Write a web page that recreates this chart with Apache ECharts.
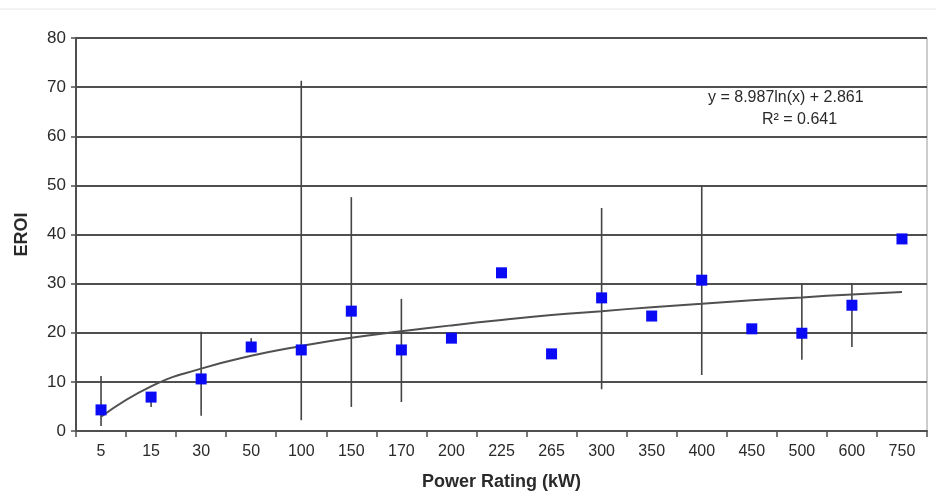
<!DOCTYPE html>
<html>
<head>
<meta charset="utf-8">
<script src="https://cdn.jsdelivr.net/npm/echarts@6/dist/echarts.min.js"></script>
<style>
  html, body { margin: 0; padding: 0; background: #fff; }
  #chart { width: 936px; height: 496px; }
</style>
</head>
<body>
<div id="chart"></div>
<script>
var categories = ['5', '15', '30', '50', '100', '150', '170', '200', '225', '265', '300', '350', '400', '450', '500', '600', '750'];
var eroi = [4.3, 6.9, 10.6, 17.1, 16.5, 24.4, 16.5, 18.9, 32.2, 15.7, 27.1, 23.4, 30.7, 20.8, 19.9, 25.6, 39.1];
// error bar range per category (null = no bar)
var errLow = [1.0, 4.9, 3.1, 16.5, 2.2, 4.9, 5.9, null, null, null, 8.5, null, 11.4, null, 14.5, 17.1, null];
var errHigh = [11.2, 7.5, 20.2, 18.9, 71.3, 47.6, 26.9, null, null, null, 45.4, null, 49.9, null, 30.1, 30.1, null];
// logarithmic trend line
var trend = [2.9, 9.1, 12.7, 15.3, 17.3, 19.0, 20.3, 21.5, 22.6, 23.6, 24.4, 25.2, 25.9, 26.6, 27.2, 27.8, 28.3];
var yTicks = { min: 0, max: 80, interval: 10 };

(function() {
  var ink = '#2a2a2a';
  var grid = '#4f4f4f';
  var font = '"Liberation Sans", Arial, sans-serif';

  var chart = echarts.init(document.getElementById('chart'), null, { renderer: 'canvas' });

  var errData = [];
  for (var i = 0; i < categories.length; i++) {
    if (errLow[i] != null) errData.push([i, errLow[i], errHigh[i]]);
  }

  var option = {
    animation: false,
    backgroundColor: '#fff',
    grid: {
      left: 76, right: 9, top: 38, bottom: 65,
      show: true, borderColor: '#9a9a9a', borderWidth: 1
    },
    xAxis: {
      type: 'category',
      data: categories,
      boundaryGap: true,
      name: 'Power Rating (kW)',
      nameLocation: 'middle',
      nameGap: 42,
      nameTextStyle: { color: ink, fontFamily: font, fontSize: 18, fontWeight: 'bold' },
      axisLine: { lineStyle: { color: grid, width: 2 } },
      axisTick: { show: true, interval: 0, length: 6, lineStyle: { color: grid, width: 1.5 } },
      axisLabel: { color: ink, fontFamily: font, fontSize: 16, margin: 13, interval: 0 },
      splitLine: { show: false }
    },
    yAxis: {
      type: 'value',
      min: yTicks.min, max: yTicks.max, interval: yTicks.interval,
      name: 'EROI',
      nameLocation: 'middle',
      nameGap: 45,
      nameRotate: 90,
      nameTextStyle: { color: ink, fontFamily: font, fontSize: 18, fontWeight: 'bold' },
      axisLine: { show: true, lineStyle: { color: grid, width: 2 } },
      axisTick: { show: true, length: 5, lineStyle: { color: grid, width: 1.5 } },
      axisLabel: { color: ink, fontFamily: font, fontSize: 17, margin: 10 },
      splitLine: { lineStyle: { color: grid, width: 1.8 } }
    },
    series: [
      {
        type: 'custom',
        name: 'range',
        data: errData,
        encode: { x: 0, y: [1, 2] },
        z: 2,
        renderItem: function(params, api) {
          var lo = api.coord([api.value(0), api.value(1)]);
          var hi = api.coord([api.value(0), api.value(2)]);
          return {
            type: 'line',
            shape: { x1: lo[0], y1: lo[1], x2: hi[0], y2: hi[1] },
            style: { stroke: '#444', lineWidth: 1.6 }
          };
        }
      },
      {
        type: 'line',
        name: 'trend',
        data: trend,
        smooth: true,
        showSymbol: false,
        z: 3,
        lineStyle: { color: '#505050', width: 2 }
      },
      {
        type: 'scatter',
        name: 'EROI',
        data: eroi,
        symbol: 'rect',
        symbolSize: 11,
        z: 4,
        itemStyle: { color: '#0a0af5', opacity: 1 }
      }
    ],
    graphic: [
      {
        type: 'text', left: 708, top: 90,
        style: { text: 'y = 8.987ln(x) + 2.861', fill: ink, font: '16px ' + font }
      },
      {
        type: 'text', left: 762, top: 112,
        style: { text: 'R² = 0.641', fill: ink, font: '16px ' + font }
      },
      {
        type: 'line', shape: { x1: 0, y1: 9, x2: 936, y2: 9 },
        style: { stroke: '#e6e6e6', lineWidth: 1 }
      }
    ]
  };

  chart.setOption(option);
  window.addEventListener('resize', function() { chart.resize(); });
})();
</script>
</body>
</html>
